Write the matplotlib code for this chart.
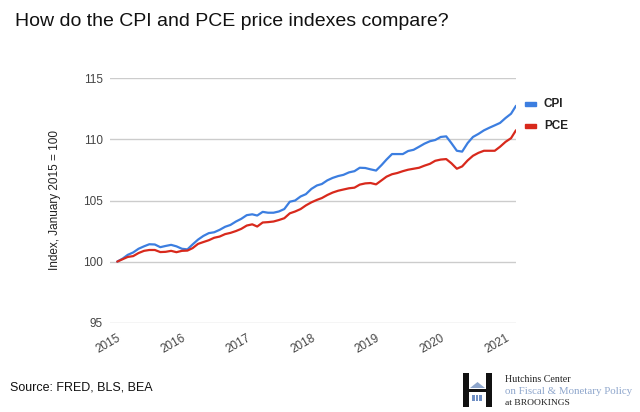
import pandas as pd
import matplotlib
matplotlib.use('Agg')
import matplotlib.pyplot as plt
from matplotlib.patches import Rectangle, Polygon

# Данные: индексы, январь 2015 = 100 (месячные, янв 2015 - мар 2021)
months = pd.date_range('2015-01-01', '2021-03-01', freq='MS')

cpi = [100.00, 100.25, 100.55, 100.75, 101.05, 101.25, 101.42, 101.40, 101.18, 101.28, 101.37, 101.25,
       101.05, 101.00, 101.40, 101.80, 102.10, 102.33, 102.40, 102.60, 102.85, 103.00, 103.28, 103.50,
       103.80, 103.87, 103.77, 104.07, 104.00, 104.00, 104.10, 104.30, 104.90, 105.00, 105.33, 105.52,
       105.95, 106.23, 106.35, 106.65, 106.85, 107.00, 107.10, 107.30, 107.40, 107.68, 107.66, 107.55,
       107.45, 107.90, 108.35, 108.80, 108.80, 108.80, 109.05, 109.15, 109.40, 109.65, 109.85, 109.95,
       110.20, 110.25, 109.70, 109.07, 109.00, 109.70, 110.20, 110.45, 110.74, 110.95, 111.15, 111.35,
       111.75, 112.10, 112.75]

pce = [100.00, 100.20, 100.38, 100.45, 100.70, 100.88, 100.95, 100.95, 100.78, 100.80, 100.88, 100.77,
       100.88, 100.90, 101.10, 101.45, 101.60, 101.75, 101.95, 102.05, 102.25, 102.35, 102.50, 102.68,
       102.95, 103.05, 102.87, 103.20, 103.23, 103.28, 103.40, 103.55, 103.95, 104.10, 104.30, 104.60,
       104.85, 105.05, 105.20, 105.45, 105.65, 105.80, 105.90, 106.00, 106.05, 106.30, 106.40, 106.43,
       106.32, 106.65, 106.95, 107.15, 107.25, 107.40, 107.52, 107.60, 107.68, 107.85, 108.00, 108.25,
       108.35, 108.39, 108.05, 107.60, 107.79, 108.28, 108.66, 108.90, 109.07, 109.07, 109.07, 109.40,
       109.80, 110.10, 110.75]

years = [str(y) for y in range(2015, 2022)]
y_ticks = [95, 100, 105, 110, 115]

plt.rcParams['font.family'] = ['Liberation Sans', 'DejaVu Sans']

W, H = 640, 412
fig = plt.figure(figsize=(W / 100, H / 100), dpi=100)

# Оси: положение в пикселях
ax = fig.add_axes([110 / W, 1 - 322.7 / H, (516 - 110) / W, (322.7 - 78.3) / H])
ax.plot(months, cpi, color='#3c7ee0', lw=1.6, solid_capstyle='round')
ax.plot(months, pce, color='#d8291c', lw=1.6, solid_capstyle='round')

ax.set_ylim(95, 115)
ax.set_yticks(y_ticks)
ax.set_xlim(pd.Timestamp('2014-11-21'), pd.Timestamp('2021-03-01'))
ax.set_xticks([pd.Timestamp(f'{y}-01-01') for y in years])
ax.set_xticklabels(years, rotation=30, ha='right', rotation_mode='anchor')
ax.grid(axis='y', color='#cccccc', lw=1)
ax.set_axisbelow(True)
for s in ax.spines.values():
    s.set_visible(False)
ax.tick_params(axis='both', length=0, labelsize=8.5, colors='#444444')
ax.tick_params(axis='y', pad=5)
ax.tick_params(axis='x', pad=7)
ax.set_ylabel('Index, January 2015 = 100', fontsize=8.5, color='#222222', labelpad=16)

# Легенда вручную
for yy, col, lab in [(104, '#3c7ee0', 'CPI'), (126, '#d8291c', 'PCE')]:
    fig.add_artist(Rectangle((525 / W, 1 - (yy + 2) / H), 11 / W, 4 / H, color=col, transform=fig.transFigure))
    fig.text(544 / W, 1 - yy / H, lab, fontsize=8.5, fontweight='bold', va='center', ha='left', color='#222222')

fig.text(15 / W, 1 - 22 / H, 'How do the CPI and PCE price indexes compare?', fontsize=14, va='center', ha='left', color='#111111')
fig.text(10 / W, 1 - 388 / H, 'Source: FRED, BLS, BEA', fontsize=9, va='center', ha='left', color='#111111')

# Логотип Hutchins Center
def px_rect(x0, y0, x1, y1, col):
    fig.add_artist(Rectangle((x0 / W, 1 - y1 / H), (x1 - x0) / W, (y1 - y0) / H, color=col,
                             transform=fig.transFigure, lw=0))

px_rect(463.3, 373.3, 469.3, 406.7, '#111111')
px_rect(485.7, 373.3, 491.7, 406.7, '#111111')
px_rect(469.3, 389.0, 485.7, 391.5, '#111111')
fig.add_artist(Polygon([(470 / W, 1 - 388 / H), (485 / W, 1 - 388 / H), (477.5 / W, 1 - 382 / H)],
                       closed=True, color='#8ea6cc', lw=0, transform=fig.transFigure))
for cx in [473.5, 477, 480.5]:
    px_rect(cx - 1.2, 394.5, cx + 1.2, 400.5, '#6f8fc4')

serif = ['Liberation Serif', 'DejaVu Serif']
fig.text(505 / W, 1 - 379 / H, 'Hutchins Center', fontsize=7.2, family=serif, va='center', ha='left', color='#222222')
fig.text(505 / W, 1 - 391 / H, 'on Fiscal & Monetary Policy', fontsize=7.8, family=serif, va='center', ha='left', color='#8ea6cc')
fig.text(505 / W, 1 - 403 / H, 'at BROOKINGS', fontsize=6.8, family=serif, va='center', ha='left', color='#222222')

fig.savefig('out.png', dpi=100, facecolor='white')
